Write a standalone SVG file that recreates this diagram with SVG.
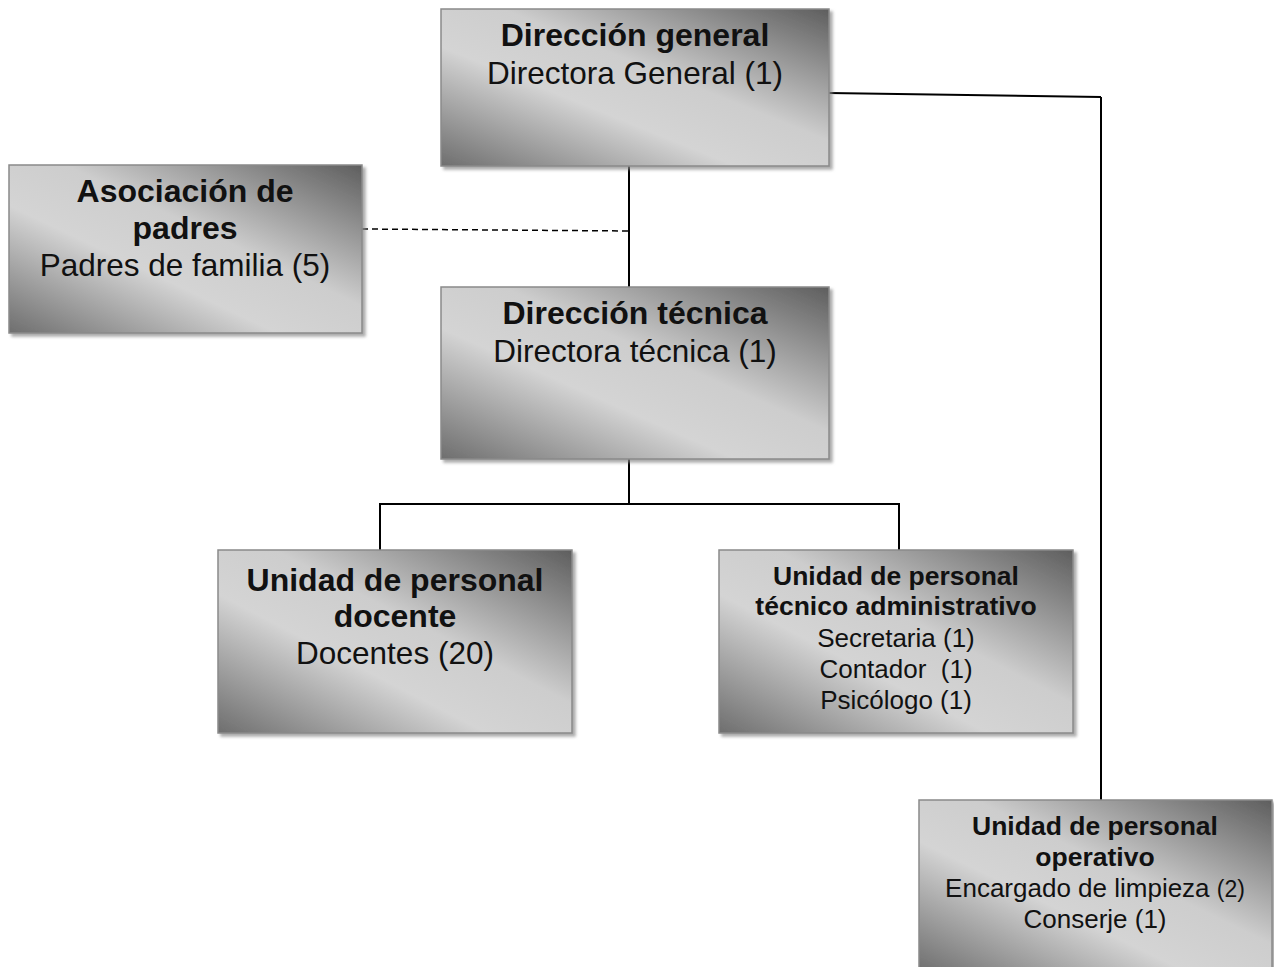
<svg xmlns="http://www.w3.org/2000/svg" width="1274" height="967" viewBox="0 0 1274 967">
<defs>
<linearGradient id="g" x1="1" y1="0" x2="0" y2="1">
<stop offset="0" stop-color="#5e5e5e"/>
<stop offset="0.42" stop-color="#cdcdcd"/>
<stop offset="0.62" stop-color="#d4d4d4"/>
<stop offset="1" stop-color="#6e6e6e"/>
</linearGradient>
<filter id="sh" x="-5%" y="-5%" width="115%" height="115%">
<feDropShadow dx="3" dy="3" stdDeviation="1.5" flood-color="#888" flood-opacity="0.7"/>
</filter>
</defs>
<style>
.box{fill:url(#g);stroke:#8a8a8a;stroke-width:1.5;filter:url(#sh)}
.t{font-family:"Liberation Sans",Arial,sans-serif;fill:#111;text-anchor:middle}
.b{font-weight:bold}
.c{stroke:#000;stroke-width:2;fill:none}
.d{stroke:#000;stroke-width:1.5;fill:none;stroke-dasharray:6 4}
</style>
<g id="connectors">
<line class="c" x1="629" y1="166" x2="629" y2="287"/>
<line class="d" x1="362" y1="229" x2="629" y2="231"/>
<polyline class="c" points="629,459 629,504"/>
<polyline class="c" points="380,550 380,504 899,504 899,550"/>
<polyline class="c" points="829,93 1101,97"/>
<line class="c" x1="1101" y1="97" x2="1101" y2="800"/>
</g>
<g id="direccion-general">
<rect class="box" x="441" y="9" width="388" height="157"/>
<text class="t b" x="635" y="46" font-size="32">Dirección general</text>
<text class="t" x="635" y="84" font-size="31.5">Directora General (1)</text>
</g>
<g id="asociacion-padres">
<rect class="box" x="9" y="165" width="353" height="168"/>
<text class="t b" x="185" y="202" font-size="32">Asociación de</text>
<text class="t b" x="185" y="239" font-size="32">padres</text>
<text class="t" x="185" y="276" font-size="31.5">Padres de familia (5)</text>
</g>
<g id="direccion-tecnica">
<rect class="box" x="441" y="287" width="388" height="172"/>
<text class="t b" x="635" y="324" font-size="32">Dirección técnica</text>
<text class="t" x="635" y="362" font-size="31.5">Directora técnica (1)</text>
</g>
<g id="unidad-docente">
<rect class="box" x="218" y="550" width="354" height="183"/>
<text class="t b" x="395" y="591" font-size="32">Unidad de personal</text>
<text class="t b" x="395" y="627" font-size="32">docente</text>
<text class="t" x="395" y="664" font-size="31.5">Docentes (20)</text>
</g>
<g id="unidad-tecnico-administrativo">
<rect class="box" x="719" y="550" width="354" height="183"/>
<text class="t b" x="896" y="585" font-size="26.5">Unidad de personal</text>
<text class="t b" x="896" y="615" font-size="26.5">técnico administrativo</text>
<text class="t" x="896" y="647" font-size="26">Secretaria (1)</text>
<text class="t" x="896" y="678" font-size="26" xml:space="preserve">Contador  (1)</text>
<text class="t" x="896" y="709" font-size="26">Psicólogo (1)</text>
</g>
<g id="unidad-operativo">
<rect class="box" x="919" y="800" width="353" height="172"/>
<text class="t b" x="1095" y="835" font-size="26.5">Unidad de personal</text>
<text class="t b" x="1095" y="866" font-size="26.5">operativo</text>
<text class="t" x="1095" y="897" font-size="26">Encargado de limpieza <tspan font-size="23">(2)</tspan></text>
<text class="t" x="1095" y="928" font-size="26">Conserje (1)</text>
</g>
</svg>
